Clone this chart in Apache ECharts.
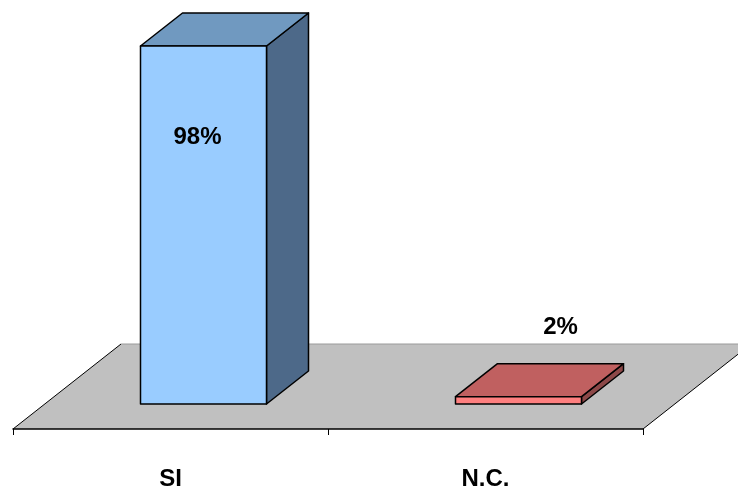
<!DOCTYPE html>
<html>
<head>
<meta charset="utf-8">
<script src="https://cdn.jsdelivr.net/npm/echarts@6/dist/echarts.min.js"></script>
<style>
  html, body { margin: 0; padding: 0; background: #fff; }
  #chart { width: 738px; height: 491px; }
</style>
</head>
<body>
<div id="chart"></div>
<script>
// Answer categories and their shares (%)
const categories = ['SI', 'N.C.'];
const shares = [98, 2];
const valueLabels = ['98%', '2%'];

// Face colours per bar: front, top, side
const frontColors = ['#99CCFF', '#FF8080'];
const topColors = ['#7099C0', '#C06060'];
const sideColors = ['#4D6989', '#8C4848'];

// Pseudo-3D geometry (pixels)
const FLOOR_DEPTH = [108, -85];   // floor back edge offset from the axis line
const FRONT_SHIFT = [33, -25];    // bar front plane offset from the axis line
const BAR_DEPTH = [42, -33];      // bar thickness
const BAR_RATIO = 0.4;            // bar width relative to category band
// where each value label sits, relative to the bar's front-top-centre
const LABEL_SHIFT = [[-6, 91], [42, -69]];

const FONT = '"Liberation Sans", Arial, sans-serif';

const chart = echarts.init(document.getElementById('chart'), null, { renderer: 'canvas' });

function renderFloor(params, api) {
  const cs = params.coordSys;
  const fy = cs.y + cs.height - FRONT_SHIFT[1];
  const fl = [cs.x, fy];
  const fr = [cs.x + cs.width, fy];
  const bl = [fl[0] + FLOOR_DEPTH[0], fy + FLOOR_DEPTH[1]];
  const br = [fr[0] + FLOOR_DEPTH[0], fy + FLOOR_DEPTH[1]];
  return {
    type: 'group',
    silent: true,
    children: [
      { type: 'polygon', shape: { points: [fl, fr, br, bl] }, style: { fill: '#C0C0C0', stroke: null } },
      { type: 'polyline', shape: { points: [bl, br] }, style: { stroke: '#9A9A9A', lineWidth: 1, fill: null } },
      { type: 'polyline', shape: { points: [fl, bl] }, style: { stroke: '#000', lineWidth: 1, fill: null } },
      { type: 'polyline', shape: { points: [fr, br] }, style: { stroke: '#000', lineWidth: 1, fill: null } }
    ]
  };
}

function renderBar(params, api) {
  const i = params.dataIndex;
  const idx = api.value(0);
  const val = api.value(1);
  const base = api.coord([idx, 0]);
  const top = api.coord([idx, val]);
  const band = api.size([1, 0])[0];
  const w = band * BAR_RATIO;
  const cx = base[0] + FRONT_SHIFT[0];
  const x0 = cx - w / 2, x1 = cx + w / 2;
  const y0 = top[1], yb = base[1];
  const dx = BAR_DEPTH[0], dy = BAR_DEPTH[1];
  const edge = { stroke: '#000', lineWidth: 1.5, lineJoin: 'round' };
  const ls = LABEL_SHIFT[i];
  return {
    type: 'group',
    children: [
      { type: 'polygon', shape: { points: [[x1, y0], [x1 + dx, y0 + dy], [x1 + dx, yb + dy], [x1, yb]] },
        style: Object.assign({ fill: sideColors[i] }, edge) },
      { type: 'polygon', shape: { points: [[x0, y0], [x1, y0], [x1 + dx, y0 + dy], [x0 + dx, y0 + dy]] },
        style: Object.assign({ fill: topColors[i] }, edge) },
      { type: 'rect', shape: { x: x0, y: y0, width: w, height: yb - y0 },
        style: Object.assign({ fill: frontColors[i] }, edge) },
      { type: 'text', x: cx + ls[0], y: y0 + ls[1],
        style: { text: valueLabels[i], fill: '#000', font: 'bold 24px ' + FONT, align: 'center', verticalAlign: 'middle' } }
    ]
  };
}

chart.setOption({
  animation: false,
  backgroundColor: '#fff',
  grid: { left: 13, right: 95, top: 38.7, bottom: 86 },
  xAxis: {
    type: 'category',
    data: categories,
    offset: 25,
    axisLine: { show: true, onZero: false, lineStyle: { color: '#000', width: 1.5 } },
    axisTick: { show: true, length: 6, lineStyle: { color: '#000', width: 1 } },
    axisLabel: { color: '#000', fontSize: 24, fontWeight: 'bold', fontFamily: FONT, margin: 38 },
    splitLine: { show: false },
    z: 10
  },
  yAxis: {
    type: 'value', min: 0, max: 100, show: false
  },
  series: [
    { type: 'custom', renderItem: renderFloor, data: [[0, 0]], z: 1, silent: true, clip: false },
    { type: 'custom', renderItem: renderBar, data: shares.map((v, k) => [k, v]), z: 2, clip: false }
  ]
});
</script>
</body>
</html>
